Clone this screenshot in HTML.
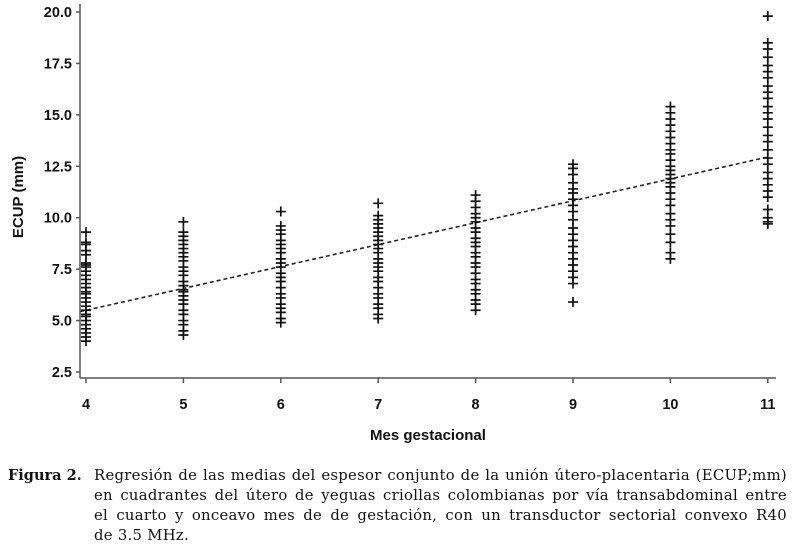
<!DOCTYPE html>
<html><head><meta charset="utf-8"><style>
body{margin:0;background:#fff;width:794px;height:552px;overflow:hidden;position:relative;font-family:"Liberation Sans",sans-serif}
#cap{position:absolute;left:8px;top:466px;width:786px;font-family:"DejaVu Serif",serif;font-size:14.8px;line-height:20px;color:#111}
#cap b{position:absolute;left:0;top:0;font-size:14.5px}
#cap .t{margin-left:86px;width:693px}
#cap .l{text-align:justify;text-align-last:justify;white-space:nowrap;letter-spacing:0.3px}
#cap .l:last-child{text-align-last:left}
</style></head><body>
<svg id="chart" width="794" height="460" style="position:absolute;left:0;top:0" font-family="Liberation Sans, sans-serif"></svg>
<div id="cap"><b>Figura 2.</b><div class="t"><div class="l">Regresión de las medias del espesor conjunto de la unión útero-placentaria (ECUP;mm)</div><div class="l">en cuadrantes del útero de yeguas criollas colombianas por vía transabdominal entre</div><div class="l">el cuarto y onceavo mes de de gestación, con un transductor sectorial convexo R40</div><div class="l">de 3.5 MHz.</div></div></div>
<script>
const months=[4,5,6,7,8,9,10,11];
const yTicks=[2.5,5.0,7.5,10.0,12.5,15.0,17.5,20.0];
const m4=[4.0,4.2,4.4,4.6,4.8,5.0,5.2,5.3,5.5,5.7,5.9,6.1,6.3,6.4,6.6,6.8,7.0,7.2,7.4,7.6,7.7,7.8,8.2,8.4,8.7,8.8,9.3];
const m5=[4.3,4.5,4.8,5.0,5.3,5.5,5.8,6.0,6.2,6.4,6.5,6.7,6.9,7.2,7.4,7.6,7.9,8.1,8.3,8.5,8.7,8.9,9.1,9.3,9.8];
const m6=[4.9,5.1,5.4,5.6,5.8,6.1,6.3,6.6,6.9,7.1,7.3,7.6,7.8,8.0,8.3,8.5,8.7,8.9,9.2,9.4,9.6,10.3];
const m7=[5.1,5.3,5.6,5.8,6.1,6.3,6.6,6.9,7.1,7.4,7.6,7.8,8.0,8.3,8.5,8.7,8.9,9.1,9.3,9.5,9.7,9.9,10.1,10.7];
const m8=[5.5,5.8,6.0,6.3,6.5,6.8,7.0,7.3,7.6,7.8,8.1,8.3,8.6,8.8,9.0,9.3,9.5,9.8,10.0,10.2,10.5,10.8,11.1];
const m9=[5.9,6.8,7.1,7.4,7.7,8.0,8.3,8.6,8.9,9.2,9.5,9.9,10.3,10.6,10.9,11.2,11.4,11.7,12.1,12.4,12.6];
const m10=[8.0,8.3,8.8,9.2,9.6,9.9,10.2,10.6,10.9,11.2,11.5,11.7,11.9,12.1,12.3,12.5,12.8,13.1,13.3,13.6,13.9,14.2,14.5,14.8,15.1,15.4];
const m11=[9.7,9.8,10.0,10.4,11.0,11.3,11.6,11.9,12.2,12.6,12.9,13.3,13.7,14.0,14.4,14.8,15.1,15.4,15.8,16.1,16.4,16.8,17.1,17.4,17.8,18.2,18.5,19.8];
const series=[m4,m5,m6,m7,m8,m9,m10,m11];
const regStart=5.5, regEnd=12.95;
const NS="http://www.w3.org/2000/svg";
const svg=document.getElementById('chart');
const X=m=>86+(m-4)*97.4;
const Y=v=>372-(v-2.5)*(360/17.5);
function mk(t,a,p){const e=document.createElementNS(NS,t);for(const k in a)e.setAttribute(k,a[k]);(p||svg).appendChild(e);return e;}
let e;
e=mk('line',{x1:80,y1:4,x2:80,y2:378,stroke:'#555','stroke-width':1.5});


e=mk('line',{x1:80,y1:378,x2:776,y2:378,stroke:'#555','stroke-width':1.5});


yTicks.forEach(v=>{
 mk('line',{x1:76,y1:Y(v),x2:80,y2:Y(v),stroke:'#555','stroke-width':1.5});
 e=mk('text',{x:72,y:Y(v)+5,'text-anchor':'end','font-size':14.5,'font-weight':'bold',fill:'#111'});
 e.textContent=v.toFixed(1);
 
 
});
months.forEach(m=>{
 mk('line',{x1:X(m),y1:378,x2:X(m),y2:383,stroke:'#555','stroke-width':1.5});
 e=mk('text',{x:X(m),y:409,'text-anchor':'middle','font-size':14.5,'font-weight':'bold',fill:'#111'});
 e.textContent=m;
 
 
});
e=mk('text',{x:428,y:440,'text-anchor':'middle','font-size':15,'font-weight':'bold',fill:'#111'});
e.textContent='Mes gestacional';


e=mk('text',{x:0,y:0,'text-anchor':'middle','font-size':15,'font-weight':'bold',fill:'#111',transform:'translate(23,197) rotate(-90)'});
e.textContent='ECUP (mm)';


e=mk('line',{x1:80,y1:Y(regStart-(regEnd-regStart)/7*(6/97.4)),x2:X(11),y2:Y(regEnd),stroke:'#222','stroke-width':1.6,'stroke-dasharray':'4,3'});


series.forEach((vals,i)=>{
 const g=mk('g',{stroke:'#111','stroke-width':1.7});
 
 
 vals.forEach(v=>{
  const x=X(months[i]),y=Y(v);
  mk('path',{d:`M${x-5},${y}H${x+5}M${x},${y-5}V${y+5}`},g);
 });
});
</script>
</body></html>
